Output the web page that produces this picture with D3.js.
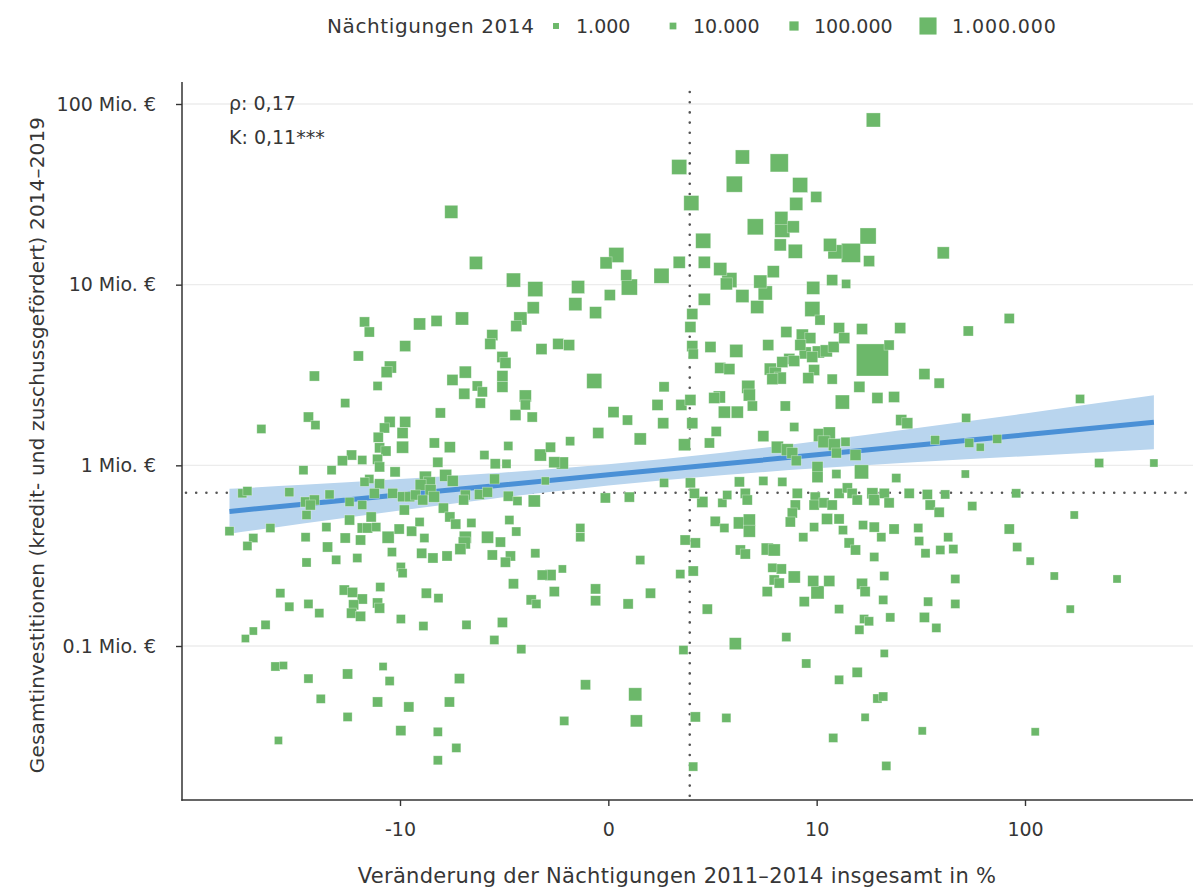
<!DOCTYPE html>
<html>
<head>
<meta charset="utf-8">
<script src="https://cdn.jsdelivr.net/npm/d3@7"></script>
<style>
  body { margin: 0; background: #ffffff; }
  text { font-family: "DejaVu Sans", sans-serif; fill: #363636; }
</style>
</head>
<body>
<svg id="chart" width="1193" height="891"></svg>
<script>
// Change in overnight stays 2011–2014 (%), per municipality
const changePct = [
  -5.3, -3.8, -2.15, -1.45, -1.51, -1.91, -2.05, -4.6, -6.4, -0.47,
  -0.52, -0.18, 0.02, -0.03, 0.11, 0.26, 0.31, 0.94, 1.39, 1.39,
  1.75, 1.78, 19.2, 3.89, 6.33, 3.47, 8.2, 9.95, 7.82, 4.64,
  6.5, 6.58, 7.54, 6.41, 7.73, 2.15, 2.19, 2.82, 3.23, 3.09,
  5.87, 4.96, 5.29, 3.89, 4.76, 2.19, 11.7, 12.4, 14.9, 18.1,
  18.3, 12.0, 14.1, 9.6, 9.5, 10.4, 41.5, 84.5, -15.1, -14.3,
  -7.9, -9.4, -16.2, -11.2, -11.7, -26.5, -13.0, -18.8, -28.3, -26.2,
  -47.3, -11.3, -12.0, -9.4, -9.7, -12.9, -9.7, -12.7, -11.8, -13.0,
  -12.7, -10.6, -6.58, -6.3, -17.5, -19.4, -15.5, -29.9, -21.9, -14.3,
  -15.1, -12.7, -13.5, -7.36, -7.0, -7.8, -6.9, -6.6, -10.9, -9.7,
  -8.9, -8.3, -7.6, -58.1, -55.0, -34.9, -29.2, -26.5, -27.7, -22.4,
  -17.9, -15.5, -9.5, -28.9, -17.9, -14.0, -66.7, -42.9, -23.2, -15.5,
  -14.6, -13.2, -10.1, -8.7, -7.9, -51.6, -55.0, -29.2, -22.9, -18.8,
  -15.8, -11.5, -7.45, -11.0, -7.7, -6.7, -16.4, -20.8, -28.9, -9.9,
  -9.7, -38.5, -34.9, -28.3, -25.1, -19.0, -17.3, -15.5, -17.1, -17.5,
  -15.8, -13.0, -12.7, -12.6, -9.9, -7.27, -7.54, -6.25, -45.2, -51.6,
  -56.2, -40.6, -37.2, -28.3, -18.3, -12.2, -11.3, -24.7, -13.0, -9.0,
  -18.3, -9.9, -39.3, -6.3, -6.3, -3.0, -3.09, -1.28, -0.87, -0.64,
  -2.57, -2.45, -4.4, -5.22, -2.57, -2.57, -3.73, -3.47, -3.57, -4.46,
  -0.2, -1.75, -1.75, -2.08, -1.54, -6.1, 1.0, 0.85, 1.45, 0.98,
  0.07, 0.28, -0.14, 0.5, -0.62, 1.54, -5.4, -2.34, -3.37, -2.87,
  -2.41, -1.31, -1.05, -0.96, -0.78, -5.7, -5.2, -2.9, -1.18, -4.4,
  -4.5, -3.62, -3.22, -2.34, -2.01, -1.48, 1.0, -0.04, 0.31, -5.87,
  -5.4, -5.0, -4.05, -2.3, -2.05, -0.43, -0.43, -4.4, -4.46, -4.7,
  -3.22, -2.65, -5.6, -3.0, -2.26, -1.45, 0.5, 1.56, 1.72, 1.78,
  1.81, 1.72, 1.78, 1.72, 1.85, 1.88, 1.81, 1.88, 1.81, 2.42,
  3.57, 5.5, 6.92, 8.42, 9.27, 8.22, 8.72, 9.49, 10.2, 11.2,
  12.2, 13.0, 13.8, 16.9, 25.9, 22.9, 19.0, 2.82, 3.23, 7.18,
  7.63, 6.58, 5.65, 6.02, 6.41, 5.8, 9.7, 9.05, 12.0, 4.22,
  4.28, 2.78, 2.57, 4.46, 3.0, 3.62, 6.83, 16.4, 13.5, 20.1,
  24.2, 33.8, 39.7, 7.63, 5.16, 2.65, 2.38, 6.18, 7.0, 7.45,
  7.82, 10.4, 11.6, 10.9, 12.3, 12.6, 14.0, 15.7, 26.2, 28.0,
  38.0, 10.1, 10.1, 12.6, 16.8, 24.8, 3.73, 5.16, 6.58, 2.12,
  2.91, 3.13, 4.05, 4.16, 7.92, 7.73, 7.45, 7.27, 9.83, 9.7,
  10.9, 12.0, 13.0, 14.3, 15.1, 16.0, 19.0, 19.4, 21.7, 22.9,
  28.6, 34.9, 36.0, 39.7, 42.4, 2.61, 3.0, 3.73, 4.28, 4.28,
  3.78, 4.05, 5.43, 5.94, 8.52, 9.7, 11.3, 13.0, 13.6, 17.1,
  19.4, 21.0, 24.2, 14.6, 15.7, 19.4, 31.6, 31.9, 40.2, 34.2,
  43.8, 54.4, 53.2, 179.7, 55.0, 61.9, 74.3, 220, 393, 52.7,
  91.0, 56.8, 168.9, 84.5, 92.0, 46.3, 105.7, -2.45, -0.78, -1.26,
  -1.05, -2.15, -0.96, -0.18, -0.18, -1.57, -1.42, 0.29, 0.7, 1.42,
  -4.33, -2.57, -2.91, -1.88, 1.51, -4.76, -0.34, 0.41, -5.43, -0.74,
  0.43, -4.96, 5.8, 6.5, 5.94, 6.33, 7.63, 9.6, 10.1, 11.6,
  5.43, 8.62, 13.0, 16.9, 17.5, 21.7, 21.45, 17.3, 18.3, 16.4,
  23.2, 35.2, 33.8, 38.5, 2.3, 6.92, 3.52, 21.7, 8.83, 16.0,
  13.0, 20.1, 21.45, 3.09, 17.5, 12.15, 33.0, 22.2, 47.3, 136.6,
  266, 47.3, 161.9, 111.5
];

// Total investment 2014–2019 (loan- and grant-funded), Mio. €
const investMio = [
  25.3, 13.2, 10.6, 9.45, 7.45, 6.5, 5.9, 6.5, 6.3, 9.7,
  7.8, 7.0, 8.76, 13.2, 14.6, 11.3, 9.7, 11.2, 13.3, 44.8,
  28.3, 6.88, 81.6, 50.9, 47.2, 36.0, 35.6, 30.6, 28.0, 20.9,
  23.4, 20.1, 20.9, 16.6, 15.3, 17.5, 13.3, 12.2, 10.6, 10.1,
  11.8, 10.4, 9.0, 8.65, 7.52, 8.3, 16.6, 15.2, 15.0, 18.6,
  13.5, 10.6, 10.1, 9.6, 7.33, 6.37, 15.0, 6.5, 6.22, 5.47,
  6.06, 4.57, 4.03, 3.5, 3.28, 3.12, 2.75, 2.21, 1.85, 1.67,
  1.59, 1.74, 1.61, 1.74, 1.51, 1.43, 1.26, 1.25, 1.20, 1.08,
  0.98, 0.92, 1.33, 1.04, 1.14, 1.06, 1.07, 0.94, 0.94, 0.84,
  0.81, 0.79, 0.70, 0.86, 0.80, 0.78, 0.73, 0.67, 0.70, 0.67,
  0.67, 0.685, 0.643, 0.70, 0.72, 0.71, 0.627, 0.643, 0.603, 0.69,
  0.627, 0.603, 0.566, 0.531, 0.498, 0.518, 0.432, 0.45, 0.455, 0.45,
  0.45, 0.455, 0.444, 0.432, 0.486, 0.396, 0.358, 0.40, 0.353, 0.396,
  0.386, 0.40, 0.396, 0.331, 0.326, 0.307, 0.307, 0.30, 0.29, 0.274,
  0.253, 0.196, 0.165, 0.171, 0.152, 0.204, 0.198, 0.182, 0.169, 0.152,
  0.146, 0.173, 0.162, 0.212, 0.141, 0.196, 0.129, 0.184, 0.131, 0.121,
  0.11, 0.077, 0.078, 0.066, 0.07, 0.077, 0.064, 0.051, 0.049, 0.046,
  0.0405, 0.034, 0.030, 0.0335, 0.0233, 5.26, 4.7, 4.4, 4.7, 4.63,
  3.98, 3.69, 3.28, 2.97, 3.12, 2.72, 2.75, 2.55, 2.21, 2.49,
  2.93, 2.42, 2.16, 1.90, 1.85, 1.95, 2.72, 2.16, 2.16, 1.71,
  1.97, 1.78, 1.51, 1.40, 1.36, 1.30, 1.26, 1.28, 1.14, 1.02,
  1.02, 1.14, 1.26, 1.04, 1.03, 0.88, 0.82, 0.84, 0.82, 0.685,
  0.643, 0.69, 0.71, 0.675, 0.635, 0.635, 0.80, 0.66, 0.667, 0.58,
  0.518, 0.473, 0.48, 0.498, 0.43, 0.45, 0.40, 0.40, 0.372, 0.344,
  0.40, 0.376, 0.315, 0.319, 0.315, 0.326, 0.299, 0.386, 5.83, 4.57,
  4.13, 2.30, 1.71, 0.80, 0.70, 0.372, 0.26, 0.0405, 0.0215, 4.52,
  4.30, 4.63, 5.47, 5.26, 5.06, 4.63, 4.19, 3.98, 4.24, 4.30,
  4.52, 5.75, 5.06, 5.68, 5.75, 4.63, 3.83, 3.46, 3.41, 3.88,
  3.78, 3.73, 3.41, 3.24, 3.04, 3.0, 3.37, 3.04, 3.0, 2.72,
  2.45, 2.39, 2.36, 2.13, 1.97, 1.97, 2.13, 2.72, 2.24, 2.36,
  2.39, 3.2, 2.85, 1.63, 1.45, 1.54, 1.33, 1.26, 1.22, 1.17,
  1.06, 1.47, 1.51, 1.35, 1.30, 1.17, 1.35, 1.14, 1.78, 1.71,
  1.38, 0.98, 0.86, 0.895, 0.92, 0.85, 0.81, 0.82, 0.81, 0.627,
  0.62, 0.685, 0.70, 0.643, 0.70, 0.603, 0.545, 0.486, 0.667, 0.603,
  0.62, 0.603, 0.70, 0.75, 0.70, 0.643, 0.70, 0.643, 0.70, 0.62,
  0.70, 0.69, 0.603, 0.55, 0.69, 0.49, 0.45, 0.48, 0.498, 0.432,
  0.34, 0.323, 0.344, 0.34, 0.40, 0.455, 0.505, 0.505, 0.438, 0.467,
  0.455, 0.40, 0.444, 0.372, 0.34, 0.311, 0.45, 0.381, 0.34, 0.326,
  0.40, 5.54, 1.83, 2.33, 1.33, 1.26, 1.40, 1.03, 1.03, 0.895,
  0.70, 0.595, 0.531, 0.444, 0.353, 0.344, 0.295, 0.291, 0.267, 0.247,
  0.247, 0.221, 0.20, 0.207, 0.178, 0.18, 0.171, 0.171, 0.196, 0.25,
  0.131, 0.135, 0.108, 0.096, 0.095, 0.066, 0.061, 0.054, 0.049, 0.0385,
  0.0385, 0.0273, 0.271, 0.267, 0.232, 0.223, 0.241, 0.229, 0.198, 0.229,
  0.20, 0.176, 0.16, 0.221, 0.20, 0.244, 0.18, 0.141, 0.137, 0.123,
  0.144, 0.176, 0.144, 0.126, 0.16, 0.112, 0.103, 0.091, 0.08, 0.0715,
  0.065, 0.0512, 0.0525, 0.04, 0.0403, 0.031, 0.0339, 0.0217, 0.235, 0.244,
  0.235, 0.171, 0.16, 0.0335
];

// Overnight stays 2014
const nights = [
  420000, 420000, 540000, 670000, 310000, 420000, 220000, 420000, 220000, 420000,
  420000, 310000, 220000, 310000, 670000, 220000, 820000, 670000, 310000, 670000,
  670000, 220000, 540000, 540000, 1170000, 820000, 670000, 220000, 420000, 820000,
  420000, 670000, 310000, 310000, 540000, 670000, 310000, 420000, 670000, 310000,
  310000, 420000, 540000, 420000, 420000, 310000, 420000, 540000, 1370000, 820000,
  220000, 220000, 90000, 420000, 670000, 150000, 310000, 150000, 150000, 150000,
  310000, 220000, 150000, 310000, 220000, 150000, 90000, 90000, 150000, 90000,
  90000, 220000, 150000, 220000, 220000, 150000, 310000, 150000, 150000, 150000,
  150000, 150000, 150000, 150000, 150000, 150000, 90000, 90000, 90000, 90000,
  90000, 150000, 150000, 310000, 310000, 220000, 220000, 220000, 150000, 150000,
  150000, 150000, 150000, 90000, 90000, 90000, 150000, 150000, 150000, 90000,
  90000, 90000, 150000, 90000, 150000, 150000, 90000, 90000, 90000, 150000,
  150000, 90000, 150000, 150000, 90000, 90000, 90000, 90000, 150000, 150000,
  150000, 310000, 90000, 90000, 150000, 150000, 90000, 90000, 90000, 90000,
  90000, 90000, 90000, 90000, 90000, 150000, 150000, 150000, 150000, 150000,
  150000, 150000, 150000, 90000, 90000, 150000, 90000, 90000, 90000, 45000,
  45000, 90000, 45000, 90000, 150000, 45000, 90000, 90000, 150000, 150000,
  90000, 150000, 45000, 90000, 90000, 220000, 220000, 220000, 220000, 220000,
  220000, 220000, 310000, 220000, 220000, 220000, 150000, 150000, 150000, 220000,
  670000, 310000, 150000, 220000, 150000, 150000, 150000, 220000, 220000, 220000,
  220000, 150000, 220000, 310000, 90000, 310000, 220000, 90000, 90000, 150000,
  90000, 310000, 150000, 220000, 310000, 310000, 220000, 150000, 45000, 150000,
  150000, 150000, 150000, 150000, 90000, 310000, 90000, 150000, 150000, 150000,
  150000, 150000, 90000, 90000, 90000, 90000, 90000, 310000, 310000, 220000,
  310000, 150000, 150000, 150000, 150000, 90000, 90000, 150000, 220000, 220000,
  150000, 220000, 220000, 150000, 150000, 150000, 150000, 150000, 90000, 220000,
  420000, 220000, 220000, 310000, 220000, 220000, 310000, 220000, 310000, 310000,
  220000, 220000, 220000, 220000, 220000, 150000, 5300000, 220000, 220000, 220000,
  220000, 220000, 310000, 310000, 310000, 220000, 220000, 220000, 150000, 420000,
  310000, 310000, 220000, 150000, 310000, 310000, 150000, 220000, 540000, 220000,
  220000, 220000, 150000, 90000, 220000, 150000, 150000, 310000, 310000, 220000,
  150000, 420000, 310000, 310000, 310000, 150000, 90000, 220000, 220000, 220000,
  90000, 220000, 220000, 90000, 540000, 90000, 150000, 90000, 90000, 220000,
  90000, 90000, 150000, 150000, 150000, 150000, 150000, 150000, 150000, 150000,
  150000, 150000, 150000, 150000, 150000, 150000, 220000, 220000, 150000, 150000,
  150000, 150000, 150000, 150000, 90000, 150000, 90000, 310000, 310000, 310000,
  150000, 150000, 310000, 310000, 90000, 90000, 220000, 150000, 90000, 90000,
  150000, 90000, 150000, 150000, 150000, 90000, 90000, 90000, 90000, 90000,
  90000, 150000, 90000, 90000, 90000, 45000, 90000, 90000, 45000, 45000,
  90000, 90000, 45000, 150000, 90000, 90000, 45000, 150000, 45000, 150000,
  220000, 150000, 150000, 150000, 150000, 150000, 90000, 150000, 150000, 90000,
  90000, 150000, 90000, 90000, 90000, 150000, 150000, 420000, 150000, 90000,
  310000, 90000, 90000, 150000, 150000, 150000, 310000, 220000, 420000, 220000,
  150000, 150000, 90000, 220000, 150000, 90000, 90000, 90000, 90000, 90000,
  90000, 90000, 150000, 90000, 150000, 90000, 310000, 45000, 90000, 150000,
  90000, 90000, 90000, 90000, 45000, 90000, 45000, 90000, 90000, 45000,
  45000, 90000, 45000, 45000
];

// Linear fit (log investment on transformed change) with 95% band
const fitPct  = [-66.7, -30, -10, -3, 0, 3, 10, 30, 100, 393];
const fitMio  = [0.556, 0.609, 0.687, 0.768, 0.886, 1.021, 1.143, 1.289, 1.475, 1.730];
const fitLow  = [0.418, 0.476, 0.562, 0.653, 0.774, 0.884, 0.962, 1.039, 1.123, 1.226];
const fitHigh = [0.741, 0.780, 0.839, 0.903, 1.014, 1.179, 1.358, 1.599, 1.938, 2.440];

// Medians (reference lines)
const medianPct = 1.7;
const medianMio = 0.705;

// Axes and legend
const xTicks = [-10, 0, 10, 100];
const xTickLabels = ["-10", "0", "10", "100"];
const yTicks = [0.1, 1, 10, 100];
const yTickLabels = ["0.1 Mio. €", "1 Mio. €", "10 Mio. €", "100 Mio. €"];
const legendNights = [1000, 10000, 100000, 1000000];
const legendLabels = ["1.000", "10.000", "100.000", "1.000.000"];
const statLabels = ["ρ: 0,17", "K: 0,11***"];

const GREEN = "#6cb86a";
const BLUE = "#4a90d6";
const BAND = "#b9d5ee";

const svg = d3.select("#chart");
const panel = { left: 182, right: 1201, top: 88, bottom: 800 };

const x = d3.scaleSymlog().constant(1.25).domain([-10, 100]).range([400, 1025]);
const y = d3.scaleLog().domain([0.1, 100]).range([646, 104]);
const side = d3.scaleSqrt().domain([0, 1000000]).range([5.6, 17.1]);

svg.append("defs").append("clipPath").attr("id", "panel-clip")
  .append("rect")
  .attr("x", panel.left).attr("y", panel.top)
  .attr("width", panel.right - panel.left).attr("height", panel.bottom - panel.top);

const plot = svg.append("g").attr("clip-path", "url(#panel-clip)");

// horizontal grid lines
plot.selectAll("line.grid").data(yTicks).join("line")
  .attr("class", "grid")
  .attr("x1", panel.left).attr("x2", panel.right)
  .attr("y1", d => y(d)).attr("y2", d => y(d))
  .attr("stroke", "#ececec").attr("stroke-width", 1.3);

// median reference lines
const dotted = { stroke: "#555555", "stroke-width": 2.6, "stroke-linecap": "round", "stroke-dasharray": "0,10.2" };
const hl = plot.append("line")
  .attr("x1", panel.left + 4).attr("x2", panel.right)
  .attr("y1", y(medianMio)).attr("y2", y(medianMio));
const vl = plot.append("line")
  .attr("x1", x(medianPct)).attr("x2", x(medianPct))
  .attr("y1", panel.top + 4).attr("y2", panel.bottom);
[hl, vl].forEach(l => Object.entries(dotted).forEach(([k, v]) => l.attr(k, v)));

// confidence band and fitted line
const fit = fitPct.map((p, i) => ({ p, m: fitMio[i], lo: fitLow[i], hi: fitHigh[i] }));
plot.append("path").datum(fit)
  .attr("fill", BAND)
  .attr("d", d3.area().x(d => x(d.p)).y0(d => y(d.lo)).y1(d => y(d.hi)).curve(d3.curveMonotoneX));
plot.append("path").datum(fit)
  .attr("fill", "none").attr("stroke", BLUE).attr("stroke-width", 5)
  .attr("d", d3.line().x(d => x(d.p)).y(d => y(d.m)));

// municipalities
const pts = changePct.map((p, i) => ({ p, m: investMio[i], n: nights[i] }))
  .sort((a, b) => b.n - a.n);
plot.selectAll("rect.pt").data(pts).join("rect")
  .attr("class", "pt")
  .attr("x", d => x(d.p) - side(d.n) / 2)
  .attr("y", d => y(d.m) - side(d.n) / 2)
  .attr("width", d => side(d.n))
  .attr("height", d => side(d.n))
  .attr("fill", GREEN)
  .attr("stroke", "#ffffff").attr("stroke-opacity", 0.45).attr("stroke-width", 0.7);

// axes
const yAxis = svg.append("g").attr("transform", `translate(${panel.left},0)`)
  .call(d3.axisLeft(y).tickValues(yTicks).tickFormat((d, i) => yTickLabels[i]).tickSize(6).tickPadding(20));
const xAxis = svg.append("g").attr("transform", `translate(0,${panel.bottom})`)
  .call(d3.axisBottom(x).tickValues(xTicks).tickFormat((d, i) => xTickLabels[i]).tickSize(6).tickPadding(17));
[yAxis, xAxis].forEach(a => {
  a.select(".domain").remove();
  a.selectAll(".tick line").attr("stroke", "#333333").attr("stroke-width", 1.4);
  a.selectAll(".tick text").attr("fill", "#363636").style("font-size", "19px")
    .style("font-family", '"DejaVu Sans", sans-serif');
});
svg.append("line").attr("x1", panel.left).attr("x2", panel.left)
  .attr("y1", panel.top - 6).attr("y2", panel.bottom + 0.7)
  .attr("stroke", "#333333").attr("stroke-width", 1.5);
svg.append("line").attr("x1", panel.left - 0.7).attr("x2", 1193)
  .attr("y1", panel.bottom).attr("y2", panel.bottom)
  .attr("stroke", "#333333").attr("stroke-width", 1.5);

// axis titles
svg.append("text")
  .attr("x", 677).attr("y", 883)
  .attr("text-anchor", "middle").style("font-size", "21px").style("letter-spacing", "0.3px")
  .text("Veränderung der Nächtigungen 2011–2014 insgesamt in %");
svg.append("text")
  .attr("transform", "translate(44,445) rotate(-90)")
  .attr("text-anchor", "middle").style("font-size", "20px").style("letter-spacing", "0.15px")
  .text("Gesamtinvestitionen (kredit- und zuschussgefördert) 2014–2019");

// correlation annotations
svg.selectAll("text.stat").data(statLabels).join("text")
  .attr("class", "stat")
  .attr("x", 229).attr("y", (d, i) => 110 + i * 34)
  .style("font-size", "19px")
  .text(d => d);

// size legend
const legend = svg.append("g");
legend.append("text").attr("x", 327).attr("y", 33)
  .style("font-size", "20px").style("letter-spacing", "0.6px")
  .text("Nächtigungen 2014");
const keyX = [556, 673, 794, 928];
const keys = legend.selectAll("g.key").data(legendNights).join("g").attr("class", "key")
  .attr("transform", (d, i) => `translate(${keyX[i]},26)`);
keys.append("rect")
  .attr("x", d => -side(d) / 2).attr("y", d => -side(d) / 2)
  .attr("width", d => side(d)).attr("height", d => side(d))
  .attr("fill", GREEN);
keys.append("text")
  .attr("x", (d, i) => (i === 3 ? 24 : 20)).attr("y", 7)
  .style("font-size", "19px").style("letter-spacing", (d, i) => (i === 3 ? "0.9px" : "0px"))
  .text((d, i) => legendLabels[i]);
</script>
</body>
</html>
